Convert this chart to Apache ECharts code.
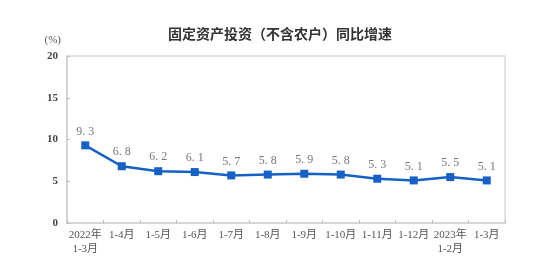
<!DOCTYPE html>
<html><head><meta charset="utf-8">
<script src="https://cdn.jsdelivr.net/npm/echarts@6/dist/echarts.min.js"></script>
<style>html,body{margin:0;padding:0;background:#fff}#c{width:560px;height:268px}</style>
</head><body><div id="c"></div>
<script>
const categories = ['2022年\n1-3月','1-4月','1-5月','1-6月','1-7月','1-8月','1-9月','1-10月','1-11月','1-12月','2023年\n1-2月','1-3月'];
const growth = [9.3, 6.8, 6.2, 6.1, 5.7, 5.8, 5.9, 5.8, 5.3, 5.1, 5.5, 5.1];
const yTicks = [0, 5, 10, 15, 20];
const titleText = '固定资产投资（不含农户）同比增速';
const unitText = '(%)';

const serif = "'Liberation Serif', 'Noto Sans CJK SC', serif";
const chart = echarts.init(document.getElementById('c'), null, {renderer: 'canvas'});
chart.setOption({
  animation: false,
  backgroundColor: '#fff',
  title: {
    text: titleText, left: 'center', top: 22,
    textStyle: {fontSize: 14, fontWeight: 'bold', color: '#333', fontFamily: "'Noto Sans CJK SC', sans-serif"}
  },
  grid: {left: 67, right: 55, top: 56, bottom: 45, show: true, borderColor: '#dcdcdc', borderWidth: 1.5},
  xAxis: {
    type: 'category', data: categories, boundaryGap: true,
    axisLine: {lineStyle: {color: '#d0d0d0', width: 1.5}},
    axisTick: {show: true, inside: true, alignWithLabel: false, length: 3, lineStyle: {color: '#bbb'}},
    axisLabel: {color: '#555', fontSize: 11, fontFamily: serif, margin: 5, lineHeight: 14, interval: 0}
  },
  yAxis: {
    type: 'value', min: yTicks[0], max: yTicks[yTicks.length - 1], interval: 5,
    name: unitText, nameLocation: 'end', nameGap: 10,
    nameTextStyle: {color: '#555', fontSize: 11, fontFamily: serif, align: 'right', padding: [0, 6, 0, 0]},
    axisLine: {show: true, lineStyle: {color: '#d0d0d0', width: 1.5}},
    axisTick: {show: true, inside: true, length: 3, lineStyle: {color: '#bbb'}},
    splitLine: {show: false},
    axisLabel: {color: '#444', fontSize: 11, fontWeight: 'bold', fontFamily: serif, margin: 9}
  },
  series: [{
    type: 'line', data: growth,
    symbol: 'rect', symbolSize: 8,
    lineStyle: {color: '#1660c6', width: 2.5},
    itemStyle: {color: '#1660c6'},
    label: {show: true, position: 'top', distance: 4, color: '#777', fontSize: 12, fontFamily: serif,
      formatter: p => p.value.toFixed(1).replace('.', '. ')}
  }]
});
</script></body></html>
